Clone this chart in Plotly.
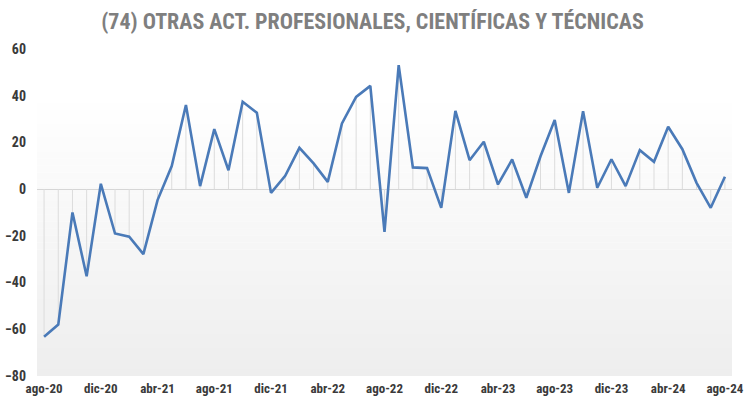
import plotly.graph_objects as go

months = ["ene", "feb", "mar", "abr", "may", "jun", "jul", "ago", "sep", "oct", "nov", "dic"]
# monthly series ago-20 .. ago-24
labels = []
m, y = 7, 20
for _ in range(49):
    labels.append(f"{months[m]}-{y:02d}")
    m += 1
    if m == 12:
        m, y = 0, y + 1

values = [-63.2, -58.0, -10.0, -37.3, 2.3, -19.0, -20.4, -27.8, -4.7, 9.9,
          36.0, 1.3, 25.7, 8.1, 37.4, 32.7, -1.6, 5.7, 17.7, 11.0,
          3.1, 28.1, 39.5, 44.2, -18.3, 53.1, 9.3, 9.0, -8.0, 33.5,
          12.4, 20.3, 2.0, 12.7, -3.7, 14.1, 29.6, -1.6, 33.4, 0.6,
          12.8, 1.3, 16.7, 11.7, 26.7, 17.1, 2.7, -8.0, 5.3]

tick_labels = labels[::4]
y_ticks = [60, 40, 20, 0, -20, -40, -60, -80]

x_idx = list(range(len(values)))

FONT = "Roboto Condensed, Liberation Sans Narrow, Arial Narrow, Roboto, sans-serif"

fig = go.Figure()

# drop lines from each point to zero, via error bars
fig.add_trace(go.Scatter(
    x=x_idx, y=values, mode="markers", marker=dict(size=0.1, color="rgba(0,0,0,0)"),
    error_y=dict(type="data", symmetric=False,
                 array=[max(-v, 0) for v in values],
                 arrayminus=[max(v, 0) for v in values],
                 width=0, thickness=1, color="#dcdcdc"),
    hoverinfo="skip", showlegend=False))

fig.add_trace(go.Scatter(
    x=x_idx, y=values, mode="lines",
    line=dict(color="#4a7ab8", width=2.6), showlegend=False))

# gradient background bands
shapes = []
n = 40
top, bottom = 40.0, -80.0
for k in range(n):
    y0 = top - (top - bottom) * k / n
    y1 = top - (top - bottom) * (k + 1) / n
    t = (k + 0.5) / n
    c = int(round(255 - (255 - 238) * t))
    shapes.append(dict(type="rect", xref="paper", yref="y", x0=0, x1=1, y0=y1, y1=y0,
                       fillcolor=f"rgb({c},{c},{c})", line=dict(width=0), layer="below"))

fig.update_layout(
    width=745, height=402,
    margin=dict(l=37, r=13, t=49, b=26, autoexpand=False),
    paper_bgcolor="white", plot_bgcolor="white",
    shapes=shapes,
    title=dict(text="<b>(74) OTRAS ACT. PROFESIONALES, CIENTÍFICAS Y TÉCNICAS</b>",
               x=0.5, xref="container", xanchor="center", y=0.948, yref="container",
               yanchor="middle",
               font=dict(family=FONT, size=22, color="#7f7f7f")),
    xaxis=dict(range=[-0.5, len(values) - 0.5], tickmode="array",
               tickvals=x_idx[::4], ticktext=tick_labels,
               showgrid=False, showline=False, zeroline=False, ticks="",
               automargin=False,
               tickfont=dict(family=FONT, size=13, color="#3a3a3a", weight="bold"),
               ticklabelstandoff=3),
    yaxis=dict(range=[-80, 60], tickmode="array", tickvals=y_ticks,
               showgrid=False, showline=False, ticks="", automargin=False,
               zeroline=True, zerolinecolor="#d6d6d6", zerolinewidth=1,
               tickfont=dict(family=FONT, size=14, color="#3a3a3a", weight="bold"),
               ticklabelstandoff=10),
)

fig.write_html("out.html", config={"displayModeBar": False},
               post_script="document.body.style.margin='0';")
